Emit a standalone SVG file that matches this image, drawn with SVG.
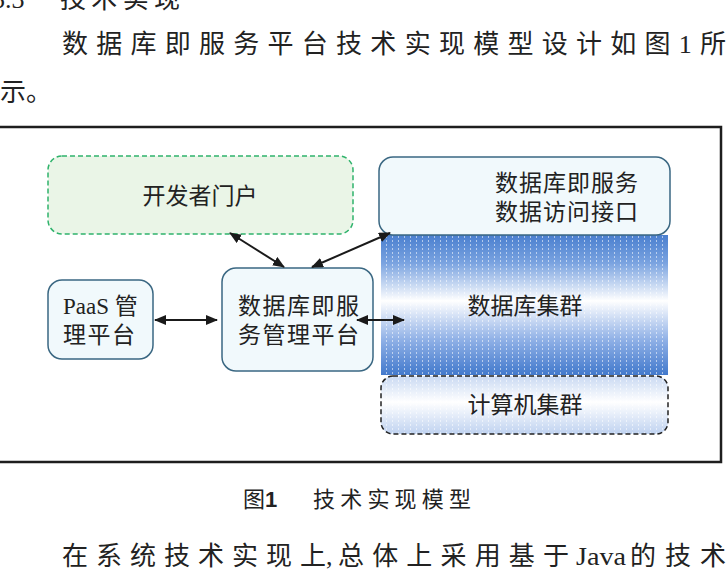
<svg xmlns="http://www.w3.org/2000/svg" width="726" height="578" viewBox="0 0 726 578">
<style>
.t{font-family:"Liberation Serif","Noto Sans CJK SC",serif;fill:#222;}
.b{font-size:23px;}
.box{fill:#f1f9fc;stroke:#3a6782;stroke-width:1.5;}
.arr{stroke:#1a1a1a;stroke-width:2;fill:none;marker-start:url(#ah);marker-end:url(#ah);}
</style>
<defs>
<marker id="ah" viewBox="0 0 12 10" refX="11" refY="5" markerWidth="12" markerHeight="10" markerUnits="userSpaceOnUse" orient="auto-start-reverse">
<path d="M0,0 L12,5 L0,10 Z" fill="#1a1a1a"/>
</marker>
<linearGradient id="gdb" x1="0" y1="0" x2="0" y2="1">
<stop offset="0" stop-color="#4a7fcf"/>
<stop offset="0.2" stop-color="#7aa3e0"/>
<stop offset="0.47" stop-color="#ffffff"/>
<stop offset="0.75" stop-color="#8fb0e6"/>
<stop offset="1" stop-color="#4279cc"/>
</linearGradient>
<linearGradient id="gpc" x1="0" y1="0" x2="0" y2="1">
<stop offset="0" stop-color="#c9d9f2"/>
<stop offset="0.45" stop-color="#ffffff"/>
<stop offset="1" stop-color="#bfd2f0"/>
</linearGradient>
<pattern id="stripes" width="6" height="4" patternUnits="userSpaceOnUse">
<rect x="2" y="0" width="1" height="2" fill="#ffffff" opacity="0.55"/>
</pattern>
</defs>
<rect x="0" y="0" width="726" height="578" fill="#ffffff"/>

<g id="page-text">
<text class="t" x="-8" y="8" font-size="26">5.3</text>
<text class="t" x="60" y="8" font-size="26" textLength="120" lengthAdjust="spacing">技术实现</text>
<text class="t" x="62" y="53" font-size="26" textLength="664" lengthAdjust="spacing">数据库即服务平台技术实现模型设计如图1所</text>
<text class="t" x="0" y="101" font-size="26">示。</text>
</g>

<g id="frame">
<path d="M-2,127 H721 V462 H-2" fill="none" stroke="#1e1e1e" stroke-width="2.5"/>
</g>

<g id="db-cluster">
<rect x="381" y="235" width="287" height="140" fill="url(#gdb)"/>
<rect x="381" y="235" width="287" height="140" fill="url(#stripes)"/>
<text class="t b" x="525" y="314" text-anchor="middle">数据库集群</text>
</g>

<g id="compute-cluster">
<rect x="381" y="376" width="287" height="58" rx="12" fill="url(#gpc)"/>
<rect x="381" y="376" width="287" height="58" rx="12" fill="url(#stripes)" stroke="#222" stroke-width="1.5" stroke-dasharray="5,3"/>
<text class="t b" x="525" y="413" text-anchor="middle">计算机集群</text>
</g>

<g id="developer-portal">
<rect x="48" y="156" width="305" height="78" rx="14" fill="#eaf5e7" stroke="#2fb36c" stroke-width="1.5" stroke-dasharray="5,3"/>
<text class="t b" x="200" y="204" text-anchor="middle">开发者门户</text>
</g>

<g id="data-access-interface">
<rect class="box" x="379" y="157" width="291" height="78" rx="14"/>
<text class="t b" x="495" y="191" textLength="143" lengthAdjust="spacing">数据库即服务</text>
<text class="t b" x="495" y="220" textLength="143" lengthAdjust="spacing">数据访问接口</text>
</g>

<g id="paas-platform">
<rect class="box" x="48" y="280" width="105" height="79" rx="14"/>
<text class="t b" x="63" y="314">PaaS 管</text>
<text class="t b" x="63" y="343" textLength="72" lengthAdjust="spacing">理平台</text>
</g>

<g id="dbaas-management">
<rect class="box" x="222" y="268" width="151" height="103" rx="14"/>
<text class="t b" x="238" y="314" textLength="121" lengthAdjust="spacing">数据库即服</text>
<text class="t b" x="238" y="343" textLength="121" lengthAdjust="spacing">务管理平台</text>
</g>

<g id="connectors">
<line class="arr" x1="155" y1="320" x2="217" y2="320"/>
<line class="arr" x1="357" y1="320" x2="404" y2="320"/>
<line class="arr" x1="230" y1="233" x2="284" y2="267"/>
<line class="arr" x1="312" y1="267" x2="390" y2="233"/>
</g>

<g id="caption">
<text x="243" y="507" font-size="22" font-family="Noto Sans CJK SC, sans-serif" fill="#222">图</text>
<text x="265" y="507" font-size="22" font-weight="bold" font-family="Liberation Sans, sans-serif" fill="#222">1</text>
<text class="t" x="313" y="507" font-size="22" textLength="158" lengthAdjust="spacing">技术实现模型</text>
</g>

<g id="bottom-text">
<text class="t" x="62" y="565" font-size="26" textLength="264" lengthAdjust="spacing">在系统技术实现上</text>
<text class="t" x="326" y="565" font-size="26">,</text>
<text class="t" x="338" y="565" font-size="26" textLength="231" lengthAdjust="spacing">总体上采用基于</text>
<text class="t" x="576" y="565" font-size="26" textLength="50" lengthAdjust="spacingAndGlyphs">Java</text>
<text class="t" x="630" y="565" font-size="26" textLength="96" lengthAdjust="spacing">的技术</text>
</g>
</svg>
